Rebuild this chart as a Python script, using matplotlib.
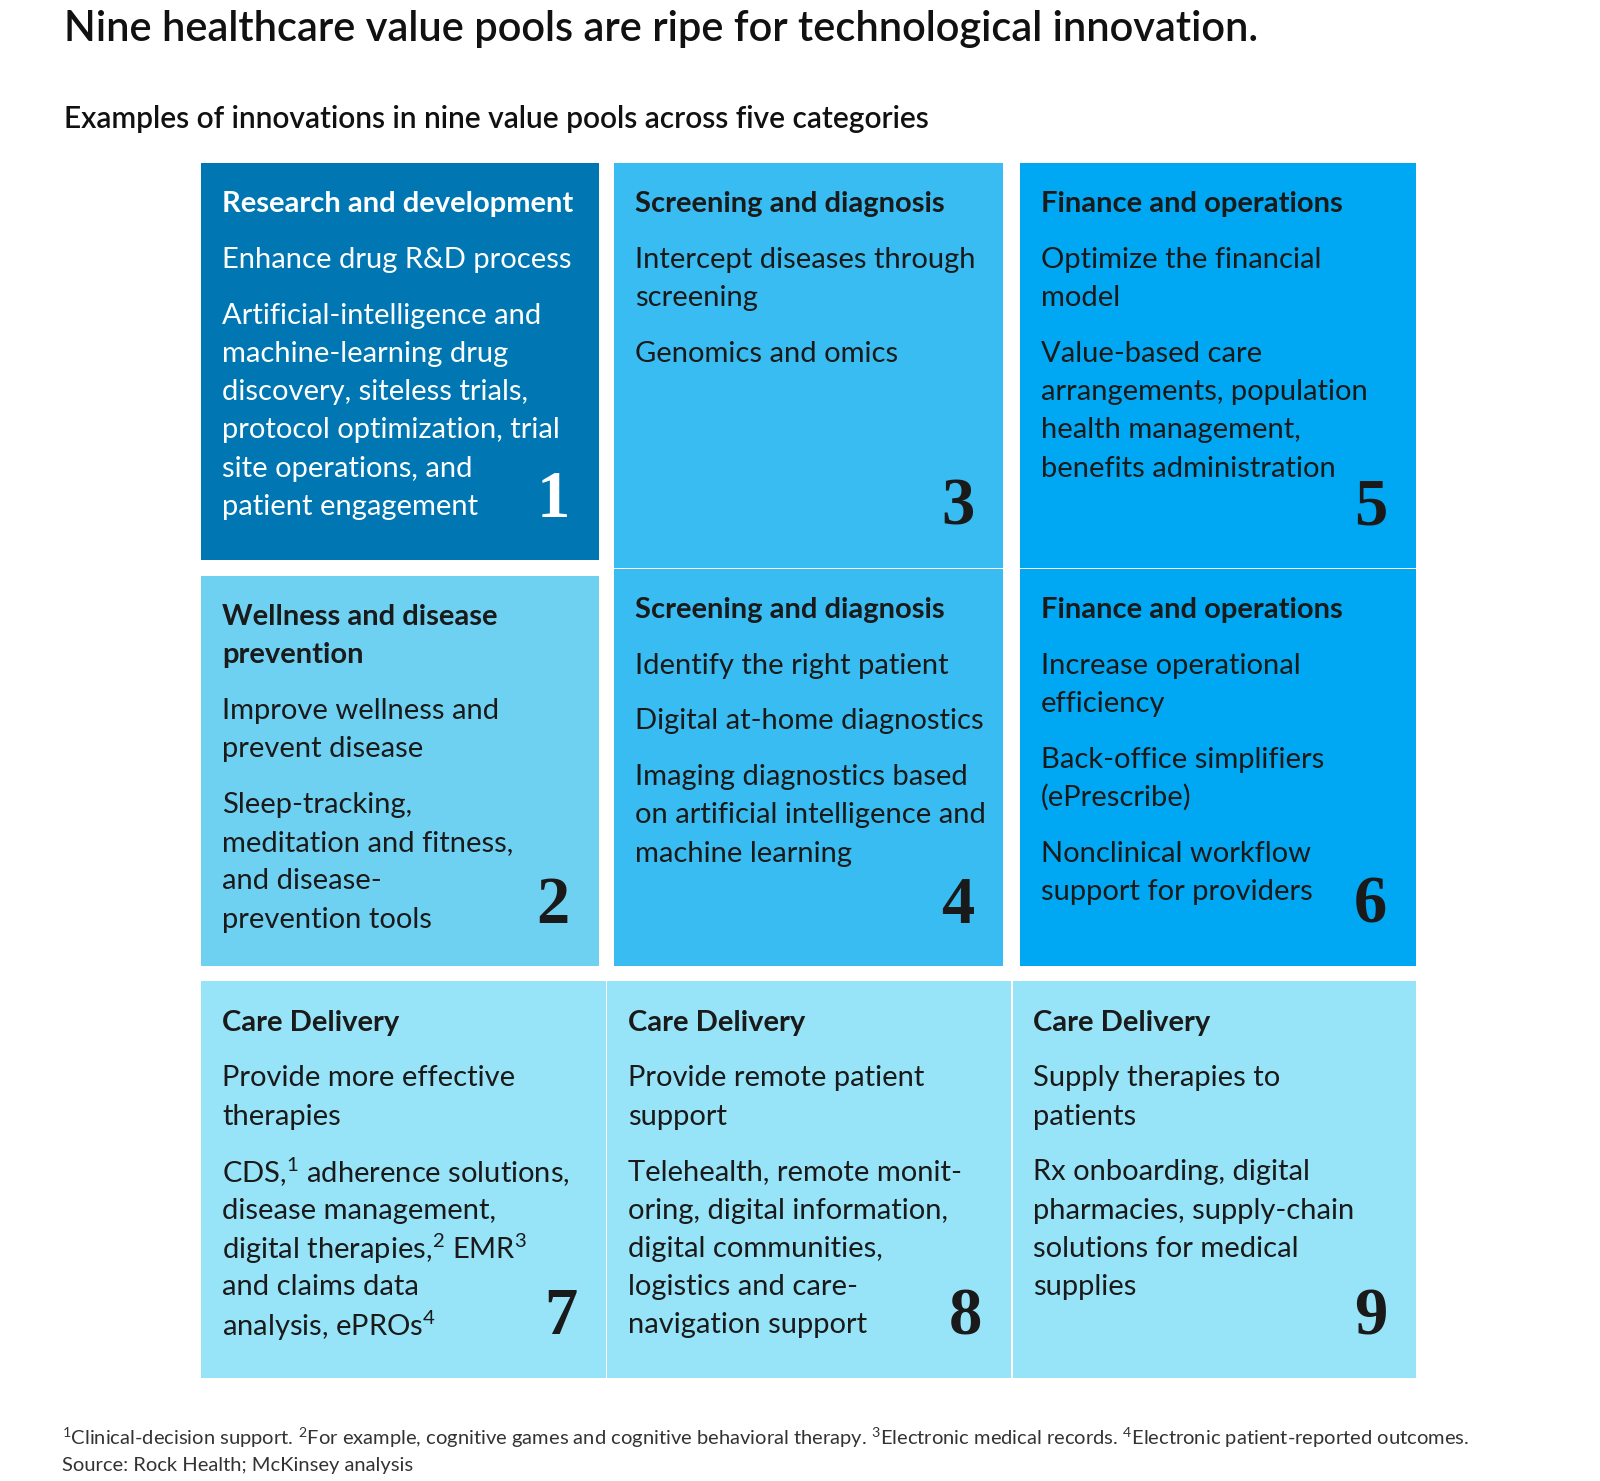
import matplotlib
matplotlib.use("Agg")
import matplotlib.pyplot as plt
from matplotlib.patches import Rectangle

plt.rcParams["font.family"] = "Lato"
plt.rcParams["mathtext.fontset"] = "custom"
plt.rcParams["mathtext.rm"] = "Lato"

TITLE = "Nine healthcare value pools are ripe for technological innovation."
SUBTITLE = "Examples of innovations in nine value pools across five categories"

numbers = ["1", "2", "3", "4", "5", "6", "7", "8", "9"]
categories = [
    "Research and development", "Wellness and disease\nprevention",
    "Screening and diagnosis", "Screening and diagnosis",
    "Finance and operations", "Finance and operations",
    "Care Delivery", "Care Delivery", "Care Delivery",
]
goals = [
    "Enhance drug R&D process", "Improve wellness and\nprevent disease",
    "Intercept diseases through\nscreening", "Identify the right patient",
    "Optimize the financial\nmodel", "Increase operational\nefficiency",
    "Provide more effective\ntherapies", "Provide remote patient\nsupport",
    "Supply therapies to\npatients",
]
examples = [
    ["Artificial-intelligence and\nmachine-learning drug\ndiscovery, siteless trials,\nprotocol optimization, trial\nsite operations, and\npatient engagement"],
    ["Sleep-tracking,\nmeditation and fitness,\nand disease-\nprevention tools"],
    ["Genomics and omics"],
    ["Digital at-home diagnostics",
     "Imaging diagnostics based\non artificial intelligence and\nmachine learning"],
    ["Value-based care\narrangements, population\nhealth management,\nbenefits administration"],
    ["Back-office simplifiers\n(ePrescribe)", "Nonclinical workflow\nsupport for providers"],
    ["CDS,$^{1}$ adherence solutions,\ndisease management,\ndigital therapies,$^{2}$ EMR$^{3}$\nand claims data\nanalysis, ePROs$^{4}$"],
    ["Telehealth, remote monit-\noring, digital information,\ndigital communities,\nlogistics and care-\nnavigation support"],
    ["Rx onboarding, digital\npharmacies, supply-chain\nsolutions for medical\nsupplies"],
]
# cell boxes: left, top, right, bottom
boxes = [
    (195, 158, 580, 543), (195, 558, 580, 936),
    (595, 158, 972, 550), (595, 551, 972, 936),
    (988, 158, 1372, 550), (988, 551, 1372, 936),
    (195, 951, 587, 1335), (588, 951, 979, 1335), (981, 951, 1372, 1335),
]
fills = ["#0077B3", "#6FD1F2", "#38BCF2", "#38BCF2", "#00A8F3", "#00A8F3",
         "#97E3F8", "#97E3F8", "#97E3F8"]
FOOTNOTE = ("$^{1}$Clinical-decision support. $^{2}$For example, cognitive games and "
            "cognitive behavioral therapy. $^{3}$Electronic medical records. "
            "$^{4}$Electronic patient-reported outcomes.")
SOURCE = "Source: Rock Health; McKinsey analysis"

fig = plt.figure(figsize=(16, 14.81), dpi=100)
ax = fig.add_axes([0, 0, 1, 1])
ax.set_xlim(0, 1550)
ax.set_ylim(1435, 0)
ax.axis("off")

ax.text(62, 28, TITLE, fontsize=30, fontweight="semibold", color="#111111", va="center")
ax.text(62, 115, SUBTITLE, fontsize=21.5, fontweight="semibold", color="#111111", va="center")

LINE = 37
PARA = 54
for i in range(9):
    l, t, r, b = boxes[i]
    ax.add_patch(Rectangle((l, t), r - l, b - t, facecolor=fills[i], edgecolor="none"))
    col = "white" if i == 0 else "#1a1a1a"
    x = l + 20
    y = t + 40
    blocks = [(categories[i], "bold"), (goals[i], "normal")] + [(e, "normal") for e in examples[i]]
    for txt, w in blocks:
        lines = txt.split("\n")
        for k, ln in enumerate(lines):
            ax.text(x, y + k * LINE, ln, fontsize=21, fontweight=w, color=col, va="center")
        y += (len(lines) - 1) * LINE + PARA
    ax.text(r - 28, b - 42, numbers[i], fontsize=48, fontfamily="Liberation Serif",
            fontweight="bold", color=col, ha="right", va="baseline")

ax.text(60, 1393, FOOTNOTE, fontsize=14.5, color="#333333", va="center")
ax.text(60, 1420, SOURCE, fontsize=14.5, color="#333333", va="center")

fig.savefig("out.png", dpi=100)
